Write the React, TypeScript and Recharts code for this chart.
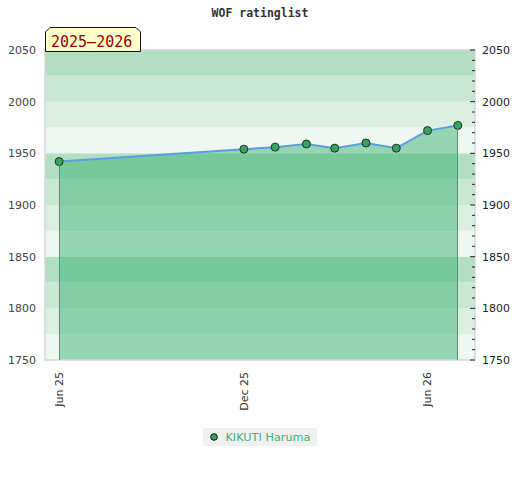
import {
  ComposedChart,
  Area,
  Line,
  XAxis,
  YAxis,
  ReferenceArea,
  ReferenceLine,
  Legend,
} from 'recharts';

const player = 'KIKUTI Haruma';
const season = '2025–2026';

const months = [
  '2025-06-01',
  '2025-12-01',
  '2026-01-01',
  '2026-02-01',
  '2026-03-01',
  '2026-04-01',
  '2026-05-01',
  '2026-06-01',
  '2026-07-01',
];
const ratings = [1942, 1954, 1956, 1959, 1955, 1960, 1955, 1972, 1977];

const dateTicks = ['2025-06-01', '2025-12-01', '2026-06-01'];
const dateDomain = ['2025-05-18', '2026-07-18'];

const ratingTicks = [1750, 1800, 1850, 1900, 1950, 2000, 2050];
const minorTicks = [
  1750, 1760, 1770, 1780, 1790, 1800, 1810, 1820, 1830, 1840, 1850, 1860, 1870, 1880, 1890, 1900,
  1910, 1920, 1930, 1940, 1950, 1960, 1970, 1980, 1990, 2000, 2010, 2020, 2030, 2040, 2050,
];

// 25-point bands, four shades per hundred
const bandStarts = [1750, 1775, 1800, 1825, 1850, 1875, 1900, 1925, 1950, 1975, 2000, 2025];
const bandShades = ['#eef7f1', '#dbefe2', '#c9e7d5', '#b2dec3'];

const monthNames = ['Jan', 'Feb', 'Mar', 'Apr', 'May', 'Jun', 'Jul', 'Aug', 'Sep', 'Oct', 'Nov', 'Dec'];

const data = months.map((m, i) => ({ date: Date.parse(m), rating: ratings[i] }));
const first = data[0];
const last = data[data.length - 1];

const fmtDate = (v: number) => {
  const d = new Date(v);
  return `${monthNames[d.getUTCMonth()]} ${String(d.getUTCFullYear()).slice(2)}`;
};

function DateTick({ x, y, payload }: any) {
  return (
    <text
      x={x}
      y={y}
      transform={`rotate(-90 ${x} ${y})`}
      textAnchor="end"
      dy="0.35em"
      fontSize={11}
      fill="#333"
    >
      {fmtDate(payload.value)}
    </text>
  );
}

function RightTick({ x, y, payload }: any) {
  const major = payload.value % 50 === 0;
  return (
    <g>
      <line x1={x - (major ? 5 : 3)} x2={x} y1={y} y2={y} stroke="#222" />
      {major && (
        <text x={x + 7} y={y} dy="0.35em" fontSize={11} fill="#222">
          {payload.value}
        </text>
      )}
    </g>
  );
}

function LegendBox() {
  return (
    <div style={{ display: 'flex', justifyContent: 'center' }}>
      <div
        style={{
          display: 'flex',
          alignItems: 'center',
          background: '#f0f0f0',
          height: 18,
          padding: '0 6px 0 7px',
          fontSize: 11.3,
          color: '#3cb371',
        }}
      >
        <svg width={8} height={8} style={{ marginRight: 7 }}>
          <circle cx={4} cy={4} r={3.3} fill="#3aa35f" stroke="#111" />
        </svg>
        {player}
      </div>
    </div>
  );
}

export default function App() {
  return (
    <div
      style={{
        position: 'absolute',
        left: 0,
        top: 0,
        width: 520,
        height: 480,
        fontFamily: '"DejaVu Sans", sans-serif',
      }}
    >
      <div
        style={{
          position: 'absolute',
          top: 6,
          width: 520,
          textAlign: 'center',
          fontFamily: '"DejaVu Sans Mono", monospace',
          fontWeight: 'bold',
          fontSize: 11.5,
          color: '#333',
        }}
      >
        WOF ratinglist
      </div>
      <ComposedChart width={520} height={480} data={data} margin={{ top: 50, right: 0, bottom: 60, left: 0 }}>
        {bandStarts.map((b, i) => (
          <ReferenceArea
            key={b}
            yAxisId="left"
            y1={b}
            y2={b + 25}
            fill={bandShades[i % 4]}
            fillOpacity={1}
            stroke="none"
            ifOverflow="hidden"
          />
        ))}
        <XAxis
          dataKey="date"
          type="number"
          scale="time"
          domain={dateDomain.map((d) => Date.parse(d))}
          ticks={dateTicks.map((d) => Date.parse(d))}
          tick={<DateTick />}
          tickLine={false}
          axisLine={false}
          tickSize={0}
          tickMargin={12}
          interval={0}
          height={60}
        />
        <YAxis
          yAxisId="left"
          domain={[1750, 2050]}
          ticks={ratingTicks}
          interval={0}
          width={45}
          tickLine={false}
          axisLine={false}
          tickSize={0}
          tickMargin={9}
          tick={{ fontSize: 11, fill: '#444' }}
        />
        <YAxis
          yAxisId="right"
          orientation="right"
          domain={[1750, 2050]}
          ticks={minorTicks}
          interval={0}
          width={45}
          tickLine={false}
          axisLine={false}
          tickSize={0}
          tickMargin={0}
          tick={(props: any) => <RightTick {...props} />}
        />
        <Area
          yAxisId="left"
          type="linear"
          dataKey="rating"
          stroke="none"
          fill="#3cb371"
          fillOpacity={0.5}
          dot={false}
          activeDot={false}
          isAnimationActive={false}
        />
        <Line
          yAxisId="right"
          type="linear"
          dataKey="rating"
          stroke="none"
          dot={false}
          activeDot={false}
          legendType="none"
          isAnimationActive={false}
        />
        <ReferenceLine
          yAxisId="left"
          segment={[
            { x: first.date, y: 1750 },
            { x: first.date, y: first.rating },
          ]}
          stroke="#28b058"
          strokeWidth={1}
          shapeRendering="crispEdges"
          zIndex={700}
        />
        <ReferenceLine
          yAxisId="left"
          segment={[
            { x: last.date, y: 1750 },
            { x: last.date, y: last.rating },
          ]}
          stroke="#28b058"
          strokeWidth={1}
          shapeRendering="crispEdges"
          zIndex={700}
        />
        <Line
          yAxisId="left"
          type="linear"
          dataKey="rating"
          stroke="#5a9fe0"
          strokeWidth={2}
          dot={{ r: 4, fill: '#3aa35f', stroke: '#1b3324', strokeWidth: 1 }}
          activeDot={false}
          isAnimationActive={false}
        />
        <ReferenceArea
          yAxisId="left"
          y1={1750}
          y2={2050}
          fill="none"
          stroke="#d6d6d6"
          strokeWidth={1.5}
        />
        <Legend
          layout="horizontal"
          align="center"
          verticalAlign="middle"
          wrapperStyle={{ top: 428, left: 0, width: 520 }}
          content={() => <LegendBox />}
        />
      </ComposedChart>
      <svg width={97} height={25} style={{ position: 'absolute', left: 45, top: 27 }}>
        <polygon points="0.5,24.5 0.5,5 5,0.5 91,0.5 95.5,5 95.5,24.5" fill="#ffffcc" stroke="#111" />
        <text x={6} y={19.5} fontSize={15} fontFamily='"DejaVu Sans Mono", monospace' fill="#990000">
          {season}
        </text>
      </svg>
    </div>
  );
}
